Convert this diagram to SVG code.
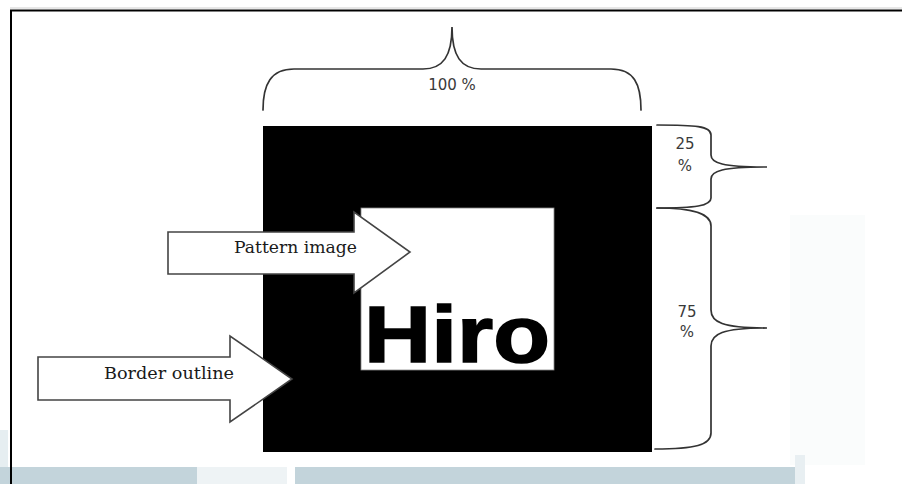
<svg xmlns="http://www.w3.org/2000/svg" width="902" height="484" viewBox="0 0 902 484">
  <style>
    .brace { fill: none; stroke: #333; stroke-width: 1.7; stroke-linecap: round; }
    .arrow { fill: #fff; stroke: #444; stroke-width: 1.6; stroke-linejoin: miter; }
    .label { font-family: "DejaVu Serif", "Liberation Serif", serif; font-size: 17px; fill: #1a1a1a; }
    .pct { font-family: "DejaVu Sans", Verdana, sans-serif; font-size: 15px; fill: #3a3a3a; text-anchor: middle; }
  </style>

  <!-- page background and frame -->
  <rect x="0" y="0" width="902" height="484" fill="#fff"/>
  <rect x="790" y="215" width="75" height="250" fill="#fafcfc"/>
  <rect x="0" y="467" width="197" height="17" fill="#c3d4db"/>
  <rect x="197" y="467" width="90" height="17" fill="#eef3f5"/>
  <rect x="295" y="467" width="500" height="17" fill="#c3d4db"/>
  <rect x="795" y="455" width="10" height="29" fill="#e8eff2"/>
  <rect x="0" y="430" width="8" height="37" fill="#e6eef1"/>
  <line x1="10" y1="8" x2="902" y2="8" stroke="#cfcfcf" stroke-width="1"/>
  <line x1="10" y1="10.5" x2="902" y2="10.5" stroke="#000" stroke-width="2"/>
  <line x1="11" y1="10" x2="11" y2="484" stroke="#000" stroke-width="2"/>

  <!-- Hiro marker: black border with white pattern area -->
  <g id="marker">
    <rect x="263" y="126" width="389" height="326" fill="#000"/>
    <rect x="361" y="208" width="193" height="162" fill="#fff" stroke="#888" stroke-width="0.8"/>
    <text x="364" y="362" font-family="Liberation Sans, Arial, sans-serif" font-weight="bold" font-size="79" fill="#000" stroke="#000" stroke-width="1.5" textLength="186" lengthAdjust="spacingAndGlyphs">Hiro</text>
  </g>

  <!-- callout arrows -->
  <g id="pattern-image">
    <polygon class="arrow" points="168,232 354,232 354,212 410,252 354,293 354,274 168,274"/>
    <text class="label" x="234" y="253" textLength="123" lengthAdjust="spacingAndGlyphs">Pattern image</text>
  </g>

  <g id="border-outline">
    <polygon class="arrow" points="38,357 230,357 230,336 292,379 230,422 230,400 38,400"/>
    <text class="label" x="104" y="379" textLength="130" lengthAdjust="spacingAndGlyphs">Border outline</text>
  </g>

  <!-- dimension braces -->
  <g id="connectors">
    <g id="brace-width">
      <path class="brace" d="M263,110 C263,84 271,69 294,69 L423,69 C443,69 452,56 452,27 C452,56 461,69 481,69 L611,69 C634,69 641,84 641,110"/>
      <text class="pct" x="452" y="90">100 %</text>
    </g>
    <g id="brace-25">
      <path class="brace" d="M657,125 C695,125 711,126 711,135 L711,155 C711,163 722,167 767,167 C722,167 711,171 711,179 L711,198 C711,206 695,208 657,208"/>
      <text class="pct" x="685" y="149">25</text>
      <text class="pct" x="685" y="171">%</text>
    </g>
    <g id="brace-75">
      <path class="brace" d="M657,208 C695,208 711,214 711,226 L711,310 C711,322 722,328 767,328 C722,328 711,334 711,346 L711,433 C711,445 695,449 655,449"/>
      <text class="pct" x="687" y="317">75</text>
      <text class="pct" x="687" y="337">%</text>
    </g>
  </g>
</svg>
